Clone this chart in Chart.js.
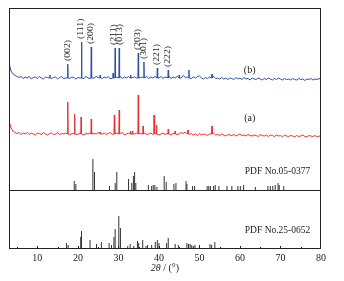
<!DOCTYPE html>
<html>
<head>
<meta charset="utf-8">
<script src="https://cdn.jsdelivr.net/npm/chart.js@4.4.0/dist/chart.umd.min.js"></script>
<style>
  html, body { margin: 0; padding: 0; background: #fff; }
  #chart { display: block; }
</style>
</head>
<body>
<canvas id="chart" width="344" height="281"></canvas>
<script>
// 2theta grid for the background noise, 3..80 step 0.5
const gridStart = 3, gridStep = 0.5;

// sample (b), blue: noise around its baseline
const blueNoise = [
  15, 7, 4, 2.5, 1.5, 0.5, 1.5, -0.5, 1, 0,
  1.5, -1, 0.5, 1, -0.5, 1.5, 0, -1, 1, 0.5,
  2, -0.5, 0.5, 1, -1, 0.5, 1.5, -0.5, 0, 0.5,
  -0.5, 1, 0.5, -1, 0.5, 0, 1, -0.5, 1.5, 0,
  -0.5, 1, 0, 1.5, 0.5, 2, -0.5, 1, 0, 1.5,
  -1, 2.5, 0.5, 1, 0, 1.5, -0.5, 1, 0, 1.5,
  2, 0.5, 1, 0, 1.5, 0.5, 1, 0, 1.5, -0.5,
  1, 0, 1.5, 1, 0, 1.5, -0.5, 1, 0.5, 1.5,
  -0.5, 1, 0, 1.5, 2, 0, 2.5, 0.5, 1, 2,
  -0.5, 1, 0, 1.5, 2, 0, -1, 0.5, -0.5, 1,
  0.5, 1.5, -0.5, 0, -1, 0.5, -1, 0, -1.5, 0,
  -0.5, -1.5, 0.5, -1, 0, -1.5, 0.5, -1, -0.5, -2,
  0, -1, -1.5, 0, -1, -2, -0.5, -1.5, 0, -1,
  -2, -0.5, -1.5, 0, -1, -2, -0.5, -1.5, -1, -2,
  -0.5, -1.5, -2, -0.5, -1.5, -1, -2.5, -1, -1.5, -0.5,
  -2, -1, -1.5, -0.5, -1.5
];
const blueTheta  = [13.1, 17.5, 20.9, 23.3, 25.5, 28.7, 29.2, 30.2, 33.0, 34.9, 36.3, 39.6, 42.3, 45.0, 47.4, 53.1];
const blueHeight = [3, 14, 36, 31, 3, 5, 30, 30, 3, 25, 16, 10, 8, 3, 8, 4];

// sample (a), red
const redNoise = [
  13, 6, 3, 1.5, 0.5, 1.5, -0.5, 1, 0, 1.5,
  -0.5, 1, 0, -1, 1, 0.5, -0.5, 1.5, 0, -1,
  0.5, 1, -0.5, 0, 1.5, -0.5, 0.5, 0, 1, 0.5,
  -1, 0.5, 1, 0, -0.5, 1, 0, -1, 0.5, 0,
  1, -0.5, 0.5, 0, 1.5, -1, 0, 1, -0.5, 0.5,
  1.5, -0.5, 0, 1, -0.5, 0.5, 1.5, -1, 0, 1,
  0.5, 1.5, 0, 1, -0.5, 0.5, 0, 1, -0.5, 0,
  1, -0.5, 0.5, 1, -1, 0, 1, -0.5, 0.5, 0,
  -1, 0.5, 1, -0.5, 0, 1.5, 0.5, 2, 0, -0.5,
  0.5, -1, 0, -1.5, 0.5, -1, 0, -0.5, -1.5, 0,
  0.5, 1, -1, -0.5, -1.5, 0, -1, -2, -0.5, -1,
  -1.5, -0.5, -2, -1, 0, -1.5, -1, -2, -0.5, -1.5,
  -2, -1, -1.5, -2.5, -0.5, -1.5, -2, -1, -2.5, -1,
  -1.5, -2.5, -1, -2, -1.5, -3, -1, -2, -2.5, -1.5,
  -2, -3, -1.5, -2.5, -2, -1, -2.5, -3, -1.5, -2,
  -2.5, -1.5, -3, -2, -2.5
];
const redTheta  = [17.5, 19.2, 20.8, 23.3, 25.5, 29.0, 30.2, 33.0, 33.5, 34.9, 36.1, 38.8, 39.4, 42.3, 44.0, 47.2, 53.1];
const redHeight = [32, 20, 17, 15, 2, 19, 24, 3, 3, 39, 8, 19, 9, 5, 3, 4, 8];

// hkl labels over curve (b)
const hklLabels = ['(002)', '(111)', '(200)', '(211)', '(013)', '(203)', '(301)', '(221)', '(222)'];
const hklTheta  = [17.5, 20.9, 23.3, 29.2, 30.2, 34.9, 36.3, 39.6, 42.3];

// PDF No.05-0377 reference lines
const pdf1Theta = [19.1, 19.5, 23.7, 24.1, 27.8, 29.2, 29.6, 32.5, 33.3, 33.7, 34.0, 34.3,
  37.4, 38.2, 38.6, 39.0, 39.5, 41.3, 41.8, 43.7, 44.2, 46.7, 46.9, 48.3, 48.8,
  51.9, 52.3, 52.7, 53.5, 53.9, 54.8, 56.8, 58.0, 59.5, 60.1, 60.9, 63.8,
  66.9, 67.5, 68.1, 68.7, 69.4, 69.7, 70.8];
const pdf1Height = [9, 6, 31, 18, 4, 7, 18, 11, 7, 14, 18, 7,
  5, 4, 5, 5, 3, 14, 8, 6, 7, 9, 6, 4, 4,
  4, 4, 4, 4, 5, 4, 4, 4, 4, 4, 5, 3,
  4, 4, 4, 5, 7, 5, 4];

// PDF No.25-0652 reference lines
const pdf2Theta = [17.2, 17.6, 20.7, 20.9, 23.0, 24.6, 25.8, 27.7, 28.3, 28.9, 29.2, 30.1, 30.5,
  32.3, 32.9, 33.8, 34.7, 35.0, 36.0, 36.8, 37.2, 38.2, 39.1, 39.6, 40.0,
  41.9, 42.3, 44.0, 44.8, 46.9, 47.3, 47.7, 48.1, 48.5, 48.9, 50.0, 52.6, 53.0, 53.8];
const pdf2Height = [6, 4, 12, 18, 9, 5, 7, 6, 4, 12, 20, 33, 21,
  3, 5, 3, 8, 6, 9, 3, 4, 4, 7, 9, 6,
  6, 11, 5, 4, 6, 5, 5, 4, 3, 4, 4, 5, 4, 7];

// vertical offsets of the stacked patterns
const blueBase = 171, redBase = 115, pdf1Base = 59, pdf2Base = 0;

function buildCurve(noise, peaksX, peaksY, base) {
  var pts = [];
  noise.forEach(function (v, i) {
    var x = gridStart + i * gridStep;
    var near = peaksX.some(function (p) { return Math.abs(p - x) < 0.2; });
    if (!near) pts.push({ x: x, y: base + v });
  });
  peaksX.forEach(function (p, i) {
    pts.push({ x: p - 0.09, y: base });
    pts.push({ x: p, y: base + peaksY[i] });
    pts.push({ x: p + 0.09, y: base });
  });
  pts.sort(function (a, b) { return a.x - b.x; });
  return pts;
}

function buildSticks(xs, hs, base) {
  var pts = [];
  xs.forEach(function (x, i) {
    pts.push({ x: x, y: base });
    pts.push({ x: x, y: base + hs[i] });
    pts.push({ x: x, y: null });
  });
  return pts;
}

const serif = "'Liberation Serif', 'Times New Roman', serif";

const decorPlugin = {
  id: 'decor',
  afterDraw: function (chart) {
    const ctx = chart.ctx;
    const a = chart.chartArea;
    const xs = chart.scales.x, ys = chart.scales.y;
    ctx.save();
    ctx.strokeStyle = '#222';
    ctx.lineWidth = 1;
    ctx.strokeRect(Math.round(a.left) + 0.5, Math.round(a.top) + 0.5,
      Math.round(a.right - a.left) - 1, Math.round(a.bottom - a.top) - 1);
    // divider = baseline of PDF 05-0377
    var yd = Math.round(ys.getPixelForValue(pdf1Base)) + 0.5;
    ctx.beginPath();
    ctx.moveTo(a.left, yd); ctx.lineTo(a.right, yd);
    ctx.stroke();
    // small inward ticks
    for (var t = 5; t < 80; t += 5) {
      var px = Math.round(xs.getPixelForValue(t)) + 0.5;
      ctx.beginPath();
      ctx.moveTo(px, a.bottom); ctx.lineTo(px, a.bottom - (t % 10 === 0 ? 3 : 2));
      ctx.stroke();
    }

    // hkl labels, rotated and condensed across; the close (211)/(013) pair is pushed apart
    ctx.fillStyle = '#222';
    ctx.font = '7.5px ' + serif;
    ctx.textAlign = 'left';
    ctx.textBaseline = 'middle';
    hklLabels.forEach(function (lab, i) {
      var k = blueTheta.indexOf(hklTheta[i]);
      var top = blueBase + blueHeight[k];
      var x = xs.getPixelForValue(hklTheta[i]);
      if (lab === '(211)') x -= 1.2;
      if (lab === '(013)') x += 1.2;
      var y = ys.getPixelForValue(top) - 3;
      ctx.save();
      ctx.translate(x, y);
      ctx.rotate(-Math.PI / 2);
      ctx.scale(1.3, 1);
      ctx.fillText(lab, 0, 0);
      ctx.restore();
    });

    // curve and card labels
    ctx.font = '10px ' + serif;
    ctx.textAlign = 'center';
    ctx.fillText('(b)', xs.getPixelForValue(62.4), ys.getPixelForValue(179));
    ctx.fillText('(a)', xs.getPixelForValue(62.4), ys.getPixelForValue(131));
    ctx.textAlign = 'left';
    ctx.font = '9.5px ' + serif;
    ctx.fillText('PDF No.05-0377', xs.getPixelForValue(61.2), ys.getPixelForValue(77.3));
    ctx.fillText('PDF No.25-0652', xs.getPixelForValue(61.2), ys.getPixelForValue(18.3));

    // axis title: italic 2θ, upright rest
    var cx = (a.left + a.right) / 2, cy = 268;
    ctx.font = 'italic 10px ' + serif;
    var w1 = ctx.measureText('2θ').width;
    ctx.font = '10px ' + serif;
    var w2 = ctx.measureText(' / (°)').width;
    var x0 = cx - (w1 + w2) / 2;
    ctx.font = 'italic 10px ' + serif;
    ctx.fillText('2θ', x0, cy);
    ctx.font = '10px ' + serif;
    ctx.fillText(' / (°)', x0 + w1, cy);
    ctx.restore();
  }
};

const ctx = document.getElementById('chart').getContext('2d');
new Chart(ctx, {
  type: 'line',
  data: {
    datasets: [
      { data: buildCurve(blueNoise, blueTheta, blueHeight, blueBase), borderColor: '#2e4fa3', borderWidth: 1 },
      { data: buildCurve(redNoise, redTheta, redHeight, redBase), borderColor: '#e4312f', borderWidth: 1 },
      { data: buildSticks(pdf1Theta, pdf1Height, pdf1Base), borderColor: '#333', borderWidth: 1, spanGaps: false },
      { data: buildSticks(pdf2Theta, pdf2Height, pdf2Base), borderColor: '#333', borderWidth: 1, spanGaps: false }
    ]
  },
  options: {
    responsive: false,
    animation: false,
    devicePixelRatio: 1,
    layout: { padding: { left: 9, right: 23, top: 8, bottom: 0 } },
    elements: { point: { radius: 0 }, line: { tension: 0 } },
    plugins: { legend: { display: false }, tooltip: { enabled: false } },
    scales: {
      x: {
        type: 'linear',
        min: 3,
        max: 80,
        afterBuildTicks: function (scale) {
          scale.ticks = [10, 20, 30, 40, 50, 60, 70, 80].map(function (v) { return { value: v }; });
        },
        afterFit: function (scale) { scale.height = 32; },
        grid: { display: false, drawTicks: false },
        border: { display: false },
        ticks: { color: '#222', padding: 3, maxRotation: 0, font: { family: serif, size: 10 } }
      },
      y: { type: 'linear', min: 0, max: 241, display: false }
    }
  },
  plugins: [decorPlugin]
});
</script>
</body>
</html>
